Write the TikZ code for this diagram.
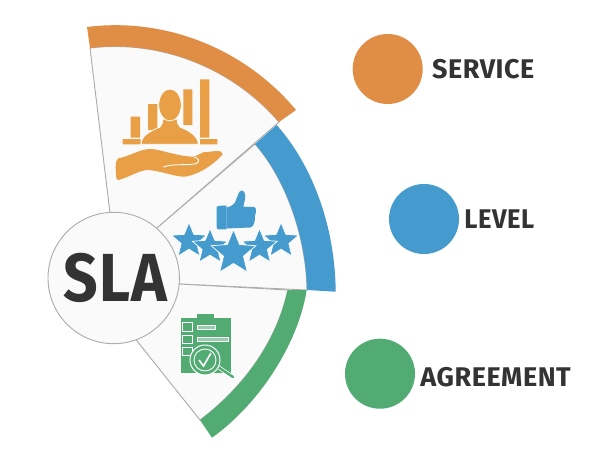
\documentclass[tikz,border=0pt]{standalone}
\usepackage{fontspec}
\usetikzlibrary{positioning,shapes.geometric}
\newfontfamily\slafont[LetterSpace=2]{Fira Sans}
\definecolor{orangeband}{HTML}{E08D45}
\definecolor{blueband}{HTML}{459BCE}
\definecolor{greenband}{HTML}{52AB72}
\definecolor{orangeicon}{HTML}{E89F45}
\definecolor{wedgefill}{HTML}{FAFAFA}
\definecolor{wedgeline}{HTML}{ABABAB}
\definecolor{inktext}{HTML}{333333}
\tikzset{
    wedge/.style={fill=wedgefill,draw=wedgeline,line width=0.9pt,line join=round},
    legenddot/.style={circle,minimum size=70pt,inner sep=0pt},
    legendlabel/.style={inner sep=0pt,text=inktext,font=\slafont\bfseries\fontsize{27}{27}\selectfont},
    ratestar/.style={star,star points=5,star point ratio=2.25,inner sep=0pt,fill=blueband,draw=white,line width=0.7pt},
    whiteline/.style={draw=white,line width=0.8pt}
}
\begin{document}
\begin{tikzpicture}[x=1pt,y=-1pt]
    \useasboundingbox(0,0)rectangle(612,455);
    \fill[white](0,0)rectangle(612,455);
    \draw[wedge](90,48)..controls(161,39.4) and (232.5,68)..(279,122)--(157,228)--(114,278)--(110,213)--cycle;
    \draw[wedge](255,144)..controls(285,178) and (306,235)..(307,290)--(179,284)--(114,278)--(157,228)--cycle;
    \draw[wedge](287.7,290)..controls(276,345) and (240,390)..(200,420)--(137,341)--(114,278)--(179,284)--cycle;
    \fill[orangeband](87,27)..controls(166,17) and (245,49)..(296,110)--(279,122)..controls(232.5,68) and (161,39.4)..(90,48)--cycle;
    \fill[blueband](276.7,125)..controls(312,165) and (335,225)..(335.7,291.7)--(307,290)..controls(306,235) and (285,178)..(255,144)--cycle;
    \fill[greenband](306.7,290)..controls(298,345) and (258,405)..(212,437.7)--(200,420)..controls(240,390) and (276,345)..(287.7,290)--cycle;
    \node[circle,minimum size=131.4pt,inner sep=0pt,fill=wedgefill,draw=wedgeline,line width=0.9pt,text=inktext,font=\slafont\bfseries\fontsize{68}{68}\selectfont](sla)at(113.7,278){\hspace*{3.6pt}\scalebox{0.89}[1]{SLA}};
    \fill[orangeicon](130.7,116.7)rectangle(140,137.7)(148,104)rectangle(157.3,130)(183.3,89.3)rectangle(192.3,125)(200,79.3)rectangle(209.3,137.7);
    \fill[orangeicon](122.7,139)rectangle(140.7,144.3)(200,139)rectangle(217.3,144.3);
    \fill[orangeicon,whiteline](141,144.3)..controls(141,136) and (150,131)..(160,127)..controls(162,125) and (163,122)..(163,119)--(177,119)..controls(177,122) and (178,125)..(180,127)..controls(190,131) and (198,136)..(198.3,144.3)--cycle;
    \fill[orangeicon,whiteline](170,105)ellipse[x radius=11.3,y radius=16];
    \fill[orangeicon](116,172)..controls(115,165) and (116,160)..(118.3,158.3)..controls(128,157) and (140,149)..(150,149)..controls(160,149) and (175,156)..(193.3,156.7)..controls(198,156) and (200,153)..(203.3,152.3)--(216.7,151)..controls(220,151) and (223,152)..(222.7,154.3)..controls(218,160) and (208,168)..(200,171.7)..controls(195,174) and (188,177)..(183.3,176.7)..controls(172,176) and (158,170)..(146.7,170)..controls(138,171) and (127,178)..(118.3,180)..controls(116,180) and (116,176)..(116,172)--cycle;
    \draw[white,line width=0.9pt](163.3,167)..controls(175,163) and (190,166)..(196.7,163.3)..controls(200,161) and (199,158)..(194,157);
    \fill[blueband](216.7,207)..controls(216.7,205.7) and (218,205.7)..(226.7,205.7)--(226.7,229.3)--(218,229.3)..controls(217,229.3) and (216.7,228)..(216.7,227)--cycle;
    \fill[blueband](226.5,207.7)..controls(232,206) and (235,204)..(236,200)..controls(238,196) and (238,191)..(242,190.5)..controls(246,191) and (246,197)..(243.3,206.7)--(254,207)..controls(257,208) and (256,212)..(255,216)..controls(255,222) and (254,227)..(250,227.5)--(226.5,228.5)--cycle;
    \node[ratestar,minimum size=37pt](starone)at(189,241){};
    \node[ratestar,minimum size=37pt](starfive)at(281,241){};
    \node[ratestar,minimum size=37pt](startwo)at(210,247){};
    \node[ratestar,minimum size=37pt](starfour)at(259.5,247){};
    \node[ratestar,minimum size=47pt](starthree)at(233.5,253){};
    \fill[greenband](180.7,317.7)rectangle(230.7,372.7);
    \fill[greenband](196.7,314)rectangle(214.3,318);
    \draw[whiteline](182.7,322.7)rectangle(192,331.7)(182.7,335)rectangle(192,343.3)(182.7,347.7)rectangle(192,355);
    \draw[whiteline,fill=greenband!60!white](197,325.2)rectangle(215,329)(197,337.5)rectangle(228.3,341.3);
    \draw[white,line width=4pt,line cap=round](215,365)--(233,377);
    \draw[greenband,line width=2.4pt,line cap=round](215,365)--(233,377);
    \fill[greenband,draw=white,line width=1pt](205,360)circle(15);
    \draw[white,line width=0.9pt,fill=greenband](205,360)circle(11);
    \draw[white,line width=1.6pt](199,360)--(203.5,366)--(211,353);
    \node[legenddot,fill=orangeband](dotservice)at(387.7,69){};
    \node[legenddot,fill=blueband](dotlevel)at(424,219){};
    \node[legenddot,fill=greenband](dotagreement)at(380,373.7){};
    \node[legendlabel,right=9pt of dotservice]{SERVICE};
    \node[legendlabel,right=5pt of dotlevel]{\scalebox{0.95}[1]{LEVEL}};
    \node[legendlabel,right=5pt of dotagreement,yshift=-3pt]{AGREEMENT};
\end{tikzpicture}
\end{document}
